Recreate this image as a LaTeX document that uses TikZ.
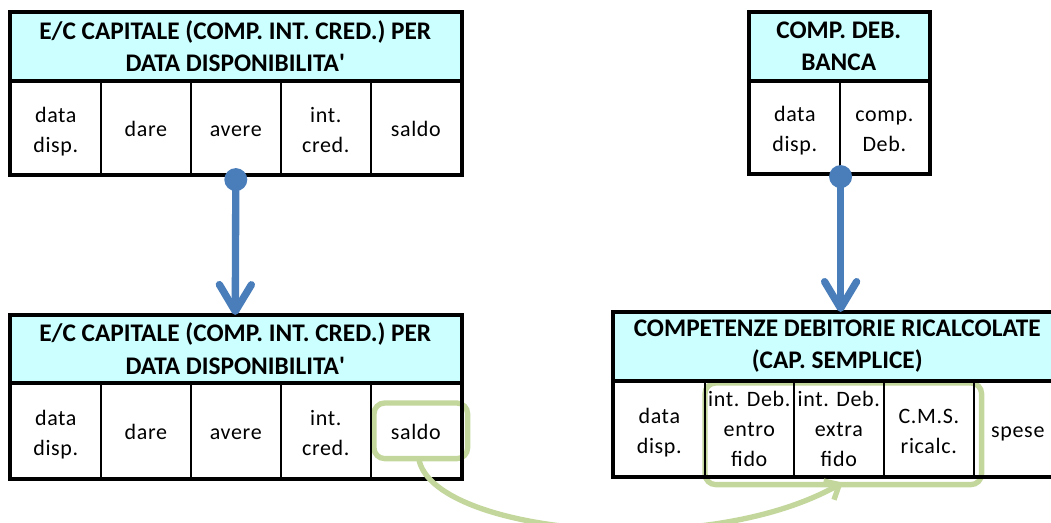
\documentclass[tikz,border=0pt]{standalone}
\usepackage{fontspec}
\setmainfont{Carlito}
\newfontfamily\cellfam[LetterSpace=3]{Carlito}
\usetikzlibrary{arrows.meta}
\pgfdeclarelayer{bg}
\pgfsetlayers{bg,main}
\definecolor{hdrc}{HTML}{CCFFFF}
\definecolor{blu}{HTML}{4A7EBB}
\definecolor{grn}{HTML}{C3D69B}
\def\pu{0.75pt}
\newcommand\hdrfont{\fontsize{19}{24.5}\selectfont\bfseries}
\newcommand\celfont{\cellfam\fontsize{16.5}{22.5}\selectfont}
\newcommand\topln{\rule{0pt}{22pt}}
\newcommand\toplnc{\rule{0pt}{19pt}}
\begin{document}
\begin{tikzpicture}[x=0.75pt,y=-0.75pt,
  hdr/.style={fill=hdrc, inner sep=0pt, align=center, font=\hdrfont, anchor=north west},
  cell/.style={draw, line width=1.2pt, inner sep=0pt, align=center, font=\celfont, anchor=north west,
    execute at begin node={\rule{0pt}{21pt}}, execute at end node=\strut},
  outer/.style={draw, line width=3pt},
  dot/.style={circle, fill=blu, inner sep=0pt, minimum size=23*\pu},
  bluarrow/.style={draw=blu, line width=5.5pt, -{Straight Barb[round, length=20pt, width=24pt]}},
  grnbox/.style={draw=grn, line width=4pt, rounded corners=8pt},
  grnarrow/.style={draw=grn, line width=4pt, -{Straight Barb[length=9pt, width=16pt]}}]
\useasboundingbox (0,0) rectangle (1051,522);
\clip (0,0) rectangle (1051,522);
% Table 1 (top left)
\node[hdr, minimum width=450*\pu, minimum height=68*\pu] (t1h) at (10,12) {E/C CAPITALE (COMP. INT. CRED.) PER\\DATA DISPONIBILITA\textquotesingle};
\node[cell, minimum width=90*\pu, minimum height=93*\pu] (t1a) at (10,80) {\topln data\\disp.};
\node[cell, minimum width=90*\pu, minimum height=93*\pu] (t1b) at (100,80) {dare};
\node[cell, minimum width=90*\pu, minimum height=93*\pu] (t1c) at (190,80) {avere};
\node[cell, minimum width=90*\pu, minimum height=93*\pu] (t1d) at (280,80) {\topln int.\\cred.};
\node[cell, minimum width=90*\pu, minimum height=93*\pu] (t1e) at (370,80) {saldo};
\draw[outer] (t1h.north west) rectangle (t1e.south east);
\draw[outer] (t1h.south west) -- (t1h.south east);
% Table 2 (top right)
\node[hdr, minimum width=179*\pu, minimum height=68*\pu] (t2h) at (749,12) {COMP. DEB.\\BANCA};
\node[cell, minimum width=90*\pu, minimum height=92*\pu] (t2a) at (749,80) {\topln data\\disp.};
\node[cell, minimum width=89*\pu, minimum height=92*\pu] (t2b) at (839,80) {\topln comp.\\Deb.};
\draw[outer] (t2h.north west) rectangle (t2b.south east);
\draw[outer] (t2h.south west) -- (t2h.south east);
% Table 3 (bottom left)
\node[hdr, minimum width=450*\pu, minimum height=67*\pu] (t3h) at (10,315) {E/C CAPITALE (COMP. INT. CRED.) PER\\DATA DISPONIBILITA\textquotesingle};
\node[cell, minimum width=90*\pu, minimum height=95*\pu] (t3a) at (10,382) {\topln data\\disp.};
\node[cell, minimum width=90*\pu, minimum height=95*\pu] (t3b) at (100,382) {dare};
\node[cell, minimum width=90*\pu, minimum height=95*\pu] (t3c) at (190,382) {avere};
\node[cell, minimum width=90*\pu, minimum height=95*\pu] (t3d) at (280,382) {\topln int.\\cred.};
\node[cell, minimum width=90*\pu, minimum height=95*\pu] (t3e) at (370,382) {saldo};
\draw[outer] (t3h.north west) rectangle (t3e.south east);
\draw[outer] (t3h.south west) -- (t3h.south east);
% Table 4 (bottom right)
\node[hdr, minimum width=448*\pu, minimum height=68*\pu] (t4h) at (613,312) {COMPETENZE DEBITORIE RICALCOLATE\\(CAP. SEMPLICE)};
\node[cell, minimum width=91*\pu, minimum height=95*\pu] (t4a) at (613,380) {\topln data\\disp.};
\node[cell, minimum width=89*\pu, minimum height=95*\pu] (t4b) at (704,380) {\toplnc int. Deb.\\entro\\fido};
\node[cell, minimum width=90*\pu, minimum height=95*\pu] (t4c) at (793,380) {\toplnc int. Deb.\\extra\\fido};
\node[cell, minimum width=90*\pu, minimum height=95*\pu] (t4d) at (883,380) {\topln C.M.S.\\ricalc.};
\node[cell, minimum width=88*\pu, minimum height=95*\pu] (t4e) at (973,380) {spese};
\draw[outer] (t4h.north west) rectangle (t4e.south east);
\draw[outer] (t4h.south west) -- (t4h.south east);
% blue connectors
\node[dot] (d1) at ([shift={(0,5)}]t1c.south) {};
\node[dot] (d2) at ([shift={(0,3)}]t2a.south east) {};
\draw[bluarrow] (d1.center) -- (t3h.north);
\draw[bluarrow] (d2.center) -- (d2.center |- t4h.north);
% green highlights
\coordinate (gs) at ([shift={(3,-20)}]t3e.south);
\coordinate (ge) at ([shift={(4,6)}]t4c.south);
\begin{pgfonlayer}{bg}
\draw[grnbox] ([shift={(4,21)}]t3e.north west) rectangle ([shift={(6,-20)}]t3e.south east);
\draw[grnbox] ([shift={(1,3)}]t4b.north west) rectangle ([shift={(7,8)}]t4d.south east);
\end{pgfonlayer}
\draw[grnarrow] (gs) .. controls +(12,73) and +(-142,79) .. (ge);
\end{tikzpicture}
\end{document}
